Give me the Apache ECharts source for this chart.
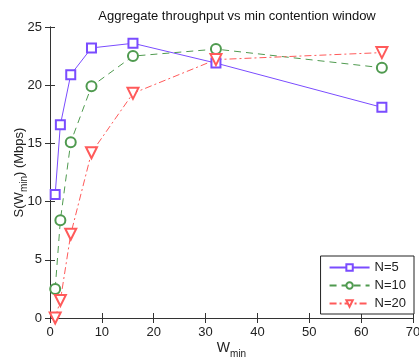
<!DOCTYPE html>
<html>
<head>
<meta charset="utf-8">
<script src="https://cdn.jsdelivr.net/npm/echarts@6/dist/echarts.min.js"></script>
<style>
  html, body { margin: 0; padding: 0; background: #fff; }
  #chart { width: 419px; height: 357px; }
</style>
</head>
<body>
<div id="chart"></div>
<script>
const wmin = [1, 2, 4, 8, 16, 32, 64];
const n5 = [10.6, 16.6, 20.9, 23.2, 23.6, 21.9, 18.1];
const n10 = [2.5, 8.4, 15.1, 19.9, 22.5, 23.1, 21.5];
const n20 = [0, 1.5, 7.2, 14.2, 19.3, 22.2, 22.8];

const pairs = (ys) => wmin.map((x, i) => [x, ys[i]]);
const font = 'Liberation Sans, Helvetica, Arial, sans-serif';

const chart = echarts.init(document.getElementById('chart'));

const axisBase = {
    type: 'value',
    axisLine: { show: true, lineStyle: { color: '#333', width: 1 } },
    axisTick: { show: true, inside: true, length: 5, lineStyle: { color: '#333' } },
    splitLine: { show: false },
    axisLabel: { color: '#222', fontSize: 13, fontFamily: font }
};

const option = {
    animation: false,
    title: {
        text: 'Aggregate throughput vs min contention window',
        left: 232,
        textAlign: 'center',
        top: 5,
        textStyle: { fontSize: 13, fontWeight: 'normal', color: '#111', fontFamily: font }
    },
    grid: { left: 50, right: 6, top: 27, bottom: 39, outerBoundsMode: 'none', containLabel: false },
    legend: {
        orient: 'vertical',
        right: 5,
        bottom: 43,
        itemWidth: 40,
        itemHeight: 8,
        itemGap: 5,
        padding: [5, 8, 4, 8],
        borderColor: '#222',
        borderWidth: 1,
        backgroundColor: '#fff',
        textStyle: { fontSize: 13, color: '#222', fontFamily: font },
        data: ['N=5', 'N=10', 'N=20']
    },
    xAxis: [
        Object.assign({}, axisBase, {
            min: 0, max: 70, interval: 10,
            name: '{w|W}{s|min}',
            nameLocation: 'middle',
            nameGap: 19,
            nameMoveOverlap: false,
            nameTextStyle: {
                rich: {
                    w: { fontSize: 14, color: '#222', fontFamily: font },
                    s: { fontSize: 10, color: '#222', fontFamily: font, padding: [12, 0, 0, 0] }
                }
            }
        }),
        Object.assign({}, axisBase, {
            position: 'top', min: 0, max: 70, interval: 10,
            axisLabel: { show: false }
        })
    ],
    yAxis: [
        Object.assign({}, axisBase, {
            min: 0, max: 25, interval: 5,
            name: '{w|S(W}{s|min}{w|) (Mbps)}',
            nameLocation: 'middle',
            nameGap: 21,
            nameRotate: 90,
            nameMoveOverlap: false,
            nameTextStyle: {
                rich: {
                    w: { fontSize: 13, color: '#222', fontFamily: font },
                    s: { fontSize: 10, color: '#222', fontFamily: font, padding: [10, 0, 0, 0] }
                }
            }
        }),
        Object.assign({}, axisBase, {
            position: 'right', min: 0, max: 25, interval: 5,
            axisLabel: { show: false }
        })
    ],
    series: [
        {
            name: 'N=5', type: 'line', data: pairs(n5),
            symbol: 'emptyRect', symbolSize: 9,
            color: '#7a4cff',
            lineStyle: { width: 1, type: 'solid' },
            itemStyle: { borderWidth: 1 }
        },
        {
            name: 'N=10', type: 'line', data: pairs(n10),
            symbol: 'emptyCircle', symbolSize: 10,
            color: '#4f9a4f',
            lineStyle: { width: 1, type: [7, 5] },
            itemStyle: { borderWidth: 1 }
        },
        {
            name: 'N=20', type: 'line', data: pairs(n20),
            symbol: 'emptyTriangle', symbolSize: 11, symbolRotate: 180,
            color: '#ff5a5a',
            lineStyle: { width: 1, type: [7, 3, 2, 3] },
            itemStyle: { borderWidth: 1 }
        }
    ]
};

chart.setOption(option);
</script>
</body>
</html>
